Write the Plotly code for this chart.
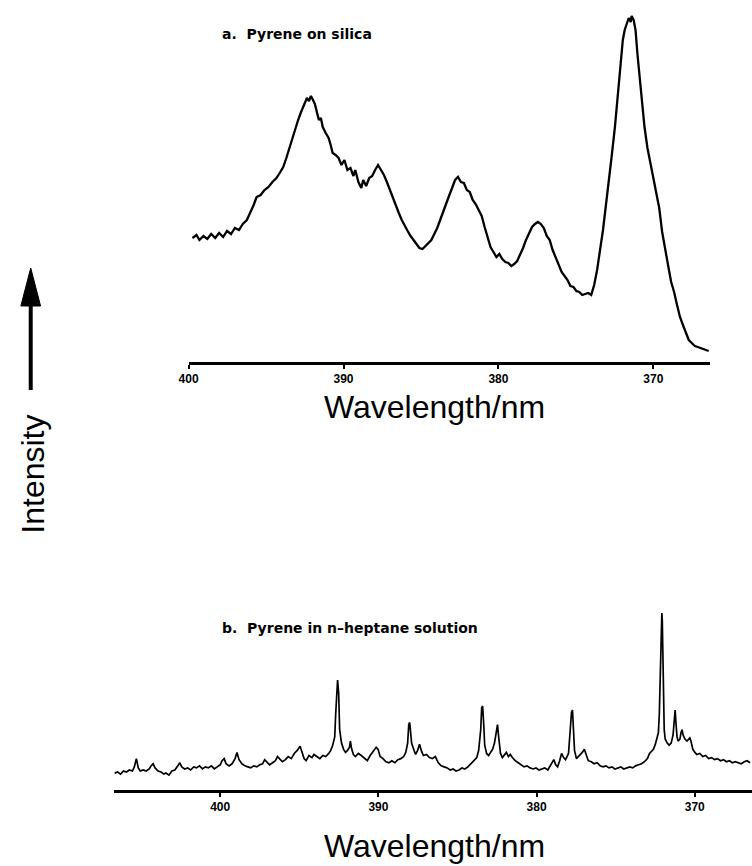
import plotly.graph_objects as go

# ---------------- data: panel a (pyrene on silica) ----------------
wl_a = [
    399.75, 399.49, 399.30, 399.04, 398.79, 398.54, 398.28, 398.03, 397.77, 397.52,
    397.26, 397.01, 396.75, 396.50, 396.24, 395.99, 395.80, 395.61, 395.35, 395.10,
    394.84, 394.59, 394.33, 394.08, 393.89, 393.69, 393.50, 393.31, 393.12, 392.93,
    392.74, 392.55, 392.36, 392.23, 392.10, 391.97, 391.85, 391.72, 391.59, 391.46,
    391.34, 391.15, 390.96, 390.83, 390.70, 390.51, 390.32, 390.13, 389.94, 389.75,
    389.55, 389.36, 389.24, 389.04, 388.85, 388.73, 388.54, 388.34, 388.15, 387.96,
    387.77, 387.58, 387.39, 387.20, 387.01, 386.82, 386.62, 386.43, 386.24, 386.05,
    385.86, 385.67, 385.48, 385.29, 385.10, 384.90, 384.71, 384.52, 384.33, 384.14,
    383.95, 383.76, 383.57, 383.38, 383.19, 382.99, 382.80, 382.61, 382.42, 382.23,
    382.04, 381.85, 381.66, 381.47, 381.27, 381.08, 380.89, 380.70, 380.51, 380.32,
    380.13, 379.94, 379.75, 379.55, 379.36, 379.17, 378.98, 378.79, 378.60, 378.41,
    378.22, 378.03, 377.83, 377.64, 377.45, 377.26, 377.07, 376.88, 376.69, 376.50,
    376.31, 376.11, 375.92, 375.73, 375.54, 375.35, 375.16, 374.97, 374.78, 374.59,
    374.39, 374.20, 374.01, 373.82, 373.63, 373.44, 373.25, 373.06, 372.87, 372.68,
    372.48, 372.29, 372.10, 371.97, 371.85, 371.72, 371.59, 371.46, 371.40, 371.27,
    371.15, 371.02, 370.89, 370.76, 370.57, 370.38, 370.19, 370.00, 369.81, 369.62,
    369.43, 369.24, 369.04, 368.85, 368.66, 368.47, 368.28, 368.09, 367.90, 367.71,
    367.52, 367.32, 367.13, 366.94, 366.69, 366.43,
]
int_a = [
    124, 127, 122, 126, 123, 128, 124, 129, 125, 131,
    128, 134, 132, 138, 142, 150, 157, 165, 167, 172,
    175, 180, 184, 190, 195, 204, 214, 224, 232, 242,
    250, 258, 264, 261, 266, 262, 258, 250, 242, 244,
    235, 229, 224, 217, 209, 207, 204, 197, 202, 192,
    194, 186, 192, 180, 174, 182, 176, 184, 186, 192,
    197, 192, 187, 180, 172, 165, 157, 149, 142, 136,
    131, 126, 122, 117, 114, 113, 116, 118, 122, 128,
    134, 142, 150, 160, 166, 174, 182, 185, 180, 179,
    172, 170, 162, 158, 152, 146, 135, 124, 115, 110,
    105, 108, 103, 100, 99, 96, 98, 101, 107, 114,
    122, 129, 135, 138, 140, 138, 134, 126, 122, 112,
    105, 97, 90, 86, 82, 76, 75, 71, 70, 67,
    68, 69, 67, 77, 92, 110, 132, 157, 180, 207,
    235, 267, 302, 322, 332, 338, 344, 340, 346, 342,
    332, 307, 287, 262, 235, 214, 199, 184, 170, 154,
    130, 112, 96, 80, 70, 57, 45, 37, 29, 22,
    19, 16, 15, 14, 12, 11,
]

# ---------------- data: panel b (pyrene in n-heptane) ----------------
wl_b = [
    406.67, 406.49, 406.30, 406.11, 405.93, 405.74, 405.55, 405.43, 405.30, 405.18,
    405.05, 404.87, 404.68, 404.49, 404.37, 404.24, 404.12, 403.93, 403.74, 403.56,
    403.43, 403.24, 403.06, 402.87, 402.68, 402.56, 402.43, 402.25, 402.06, 401.87,
    401.68, 401.50, 401.31, 401.12, 400.94, 400.75, 400.56, 400.37, 400.19, 400.00,
    399.88, 399.75, 399.63, 399.44, 399.25, 399.06, 398.94, 398.81, 398.63, 398.44,
    398.25, 398.07, 397.88, 397.69, 397.50, 397.32, 397.19, 397.07, 396.88, 396.69,
    396.51, 396.38, 396.26, 396.07, 395.88, 395.70, 395.51, 395.32, 395.13, 394.95,
    394.82, 394.70, 394.57, 394.39, 394.20, 394.07, 393.89, 393.70, 393.51, 393.33,
    393.14, 393.01, 392.89, 392.76, 392.70, 392.64, 392.58, 392.51, 392.45, 392.33,
    392.20, 392.08, 391.95, 391.83, 391.77, 391.70, 391.58, 391.45, 391.27, 391.08,
    390.89, 390.70, 390.52, 390.33, 390.14, 390.02, 389.89, 389.71, 389.52, 389.33,
    389.15, 388.96, 388.77, 388.58, 388.40, 388.27, 388.15, 388.08, 388.02, 387.96,
    387.90, 387.77, 387.65, 387.52, 387.40, 387.27, 387.15, 386.96, 386.77, 386.59,
    386.40, 386.21, 386.03, 385.84, 385.65, 385.46, 385.28, 385.09, 384.90, 384.72,
    384.53, 384.34, 384.15, 383.97, 383.78, 383.66, 383.53, 383.47, 383.41, 383.34,
    383.28, 383.16, 383.03, 382.91, 382.78, 382.66, 382.53, 382.47, 382.41, 382.28,
    382.16, 382.03, 381.91, 381.78, 381.66, 381.53, 381.35, 381.16, 380.97, 380.79,
    380.60, 380.41, 380.22, 380.04, 379.85, 379.66, 379.48, 379.29, 379.10, 378.91,
    378.79, 378.67, 378.54, 378.42, 378.29, 378.17, 377.98, 377.85, 377.79, 377.73,
    377.67, 377.60, 377.48, 377.29, 377.11, 376.98, 376.86, 376.73, 376.54, 376.36,
    376.17, 375.98, 375.80, 375.61, 375.42, 375.23, 375.05, 374.86, 374.67, 374.49,
    374.30, 374.11, 373.92, 373.74, 373.55, 373.36, 373.18, 372.99, 372.86, 372.74,
    372.61, 372.49, 372.36, 372.30, 372.24, 372.18, 372.11, 372.08, 372.05, 371.99,
    371.93, 371.87, 371.74, 371.62, 371.49, 371.37, 371.30, 371.24, 371.18, 371.12,
    371.05, 370.93, 370.87, 370.80, 370.74, 370.62, 370.49, 370.37, 370.31, 370.24,
    370.12, 369.99, 369.87, 369.68, 369.49, 369.31, 369.12, 368.93, 368.75, 368.56,
    368.37, 368.18, 368.00, 367.81, 367.62, 367.44, 367.25, 367.06, 366.87, 366.69,
    366.50,
]
int_b = [
    21, 22, 20, 23, 22, 24, 23, 27, 35, 26,
    23, 24, 23, 25, 28, 30, 26, 23, 22, 20,
    21, 19, 23, 24, 28, 31, 27, 25, 26, 24,
    27, 26, 28, 25, 27, 26, 28, 25, 27, 29,
    33, 35, 30, 28, 30, 35, 41, 34, 30, 28,
    27, 26, 28, 27, 29, 30, 34, 32, 29, 31,
    33, 37, 35, 32, 34, 37, 35, 40, 43, 47,
    41, 35, 33, 38, 36, 39, 37, 35, 38, 37,
    40, 43, 48, 56, 78, 103, 111, 98, 63, 50,
    44, 41, 43, 46, 52, 45, 39, 37, 40, 38,
    35, 33, 38, 42, 46, 44, 37, 35, 32, 31,
    33, 31, 34, 35, 37, 41, 50, 68, 70, 60,
    50, 44, 39, 43, 49, 42, 38, 39, 36, 35,
    37, 31, 28, 27, 26, 24, 25, 23, 24, 26,
    25, 27, 30, 32, 36, 43, 63, 84, 86, 68,
    48, 40, 38, 41, 44, 50, 63, 68, 58, 40,
    36, 39, 41, 37, 39, 36, 33, 31, 29, 27,
    28, 26, 25, 26, 24, 25, 26, 24, 29, 34,
    29, 27, 33, 40, 36, 34, 40, 68, 80, 82,
    68, 43, 35, 38, 41, 44, 38, 33, 32, 30,
    31, 28, 27, 28, 26, 27, 25, 26, 27, 25,
    26, 27, 26, 28, 29, 30, 32, 35, 40, 42,
    44, 49, 55, 60, 78, 128, 168, 176, 168, 108,
    63, 54, 50, 48, 50, 58, 78, 82, 68, 56,
    52, 54, 60, 63, 58, 54, 52, 54, 55, 52,
    44, 41, 39, 40, 37, 38, 35, 36, 34, 35,
    33, 34, 32, 33, 31, 32, 31, 30, 32, 33,
    31,
]

tick_vals = [400, 390, 380, 370]
tick_text = ["400", "390", "380", "370"]

W, H = 752, 866


def fx(p):
    return p / W


def fy(p):
    return 1 - p / H


fig = go.Figure()
fig.add_trace(go.Scatter(
    x=wl_a, y=int_a, mode="lines", xaxis="x", yaxis="y",
    line=dict(color="black", width=2.3), showlegend=False, hoverinfo="skip",
))
fig.add_trace(go.Scatter(
    x=wl_b, y=int_b, mode="lines", xaxis="x2", yaxis="y2",
    line=dict(color="black", width=1.7), showlegend=False, hoverinfo="skip",
))

tickfont = dict(family="Liberation Sans", size=12, color="black", weight="bold")
axis_common = dict(
    showline=True, linecolor="black", linewidth=2.6,
    ticks="outside", ticklen=4, tickwidth=1.5, tickcolor="black",
    tickvals=tick_vals, ticktext=tick_text, tickfont=tickfont,
    showgrid=False, zeroline=False, fixedrange=True,
)

fig.update_layout(
    width=W, height=H,
    margin=dict(l=0, r=0, t=0, b=0),
    paper_bgcolor="white", plot_bgcolor="white",
    xaxis=dict(domain=[fx(181), fx(709)], range=[400, 366.37], anchor="y", **axis_common),
    yaxis=dict(domain=[fy(362), 1], range=[0, 362], visible=False, fixedrange=True),
    xaxis2=dict(domain=[fx(105), 1], range=[406.74, 366.38], anchor="y2", **axis_common),
    yaxis2=dict(domain=[fy(790), fy(590)], range=[4.63, 198.2], visible=False, fixedrange=True),
)

label_font = dict(family="DejaVu Sans", size=14, color="black", weight="bold")
title_font = dict(family="Liberation Sans", size=32, color="black")

fig.add_annotation(text="a.  Pyrene on silica", x=fx(213), y=fy(34), xref="paper", yref="paper",
                   xanchor="left", yanchor="middle", showarrow=False, font=label_font)
fig.add_annotation(text="b.  Pyrene in n\u2013heptane solution", x=fx(213), y=fy(628), xref="paper",
                   yref="paper", xanchor="left", yanchor="middle", showarrow=False, font=label_font)
fig.add_annotation(text="Wavelength/nm", x=fx(430), y=fy(387), xref="paper", yref="paper",
                   xanchor="center", yanchor="top", showarrow=False, font=title_font)
fig.add_annotation(text="Wavelength/nm", x=fx(430), y=fy(846), xref="paper", yref="paper",
                   xanchor="center", yanchor="middle", showarrow=False, font=title_font)
fig.add_annotation(text="Intensity", x=fx(23), y=fy(474), xref="paper", yref="paper",
                   xanchor="center", yanchor="middle", textangle=-90, showarrow=False,
                   font=dict(family="Liberation Sans", size=32, color="black"))

# arrow next to the Intensity label
fig.add_shape(type="line", xref="paper", yref="paper",
              x0=fx(21), x1=fx(21), y0=fy(390), y1=fy(300),
              line=dict(color="black", width=4))
fig.add_shape(type="path", xref="paper", yref="paper",
              path=f"M {fx(21)} {fy(268)} L {fx(11)} {fy(306)} L {fx(31)} {fy(306)} Z",
              fillcolor="black", line=dict(color="black", width=1))

fig.write_html("out.html")
